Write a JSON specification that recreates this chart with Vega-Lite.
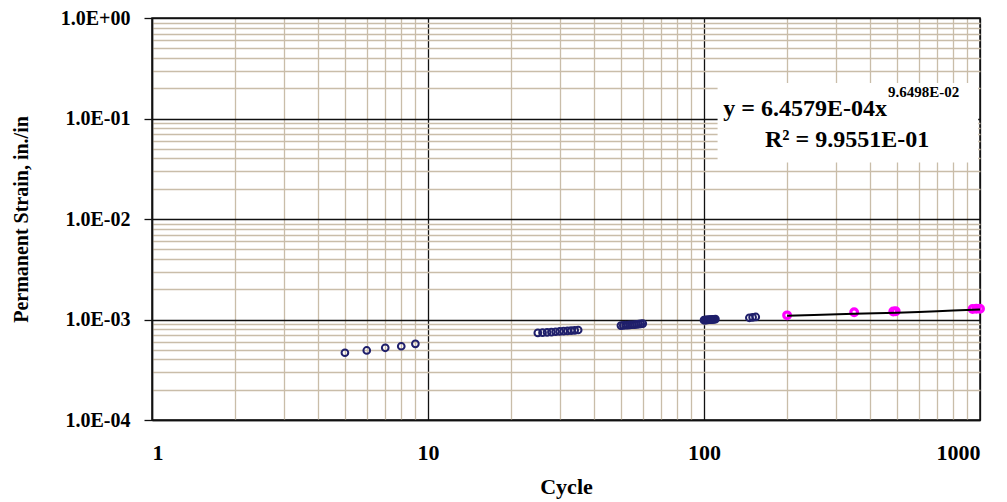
{
  "$schema": "https://vega.github.io/schema/vega-lite/v6.json",
  "width": 828,
  "height": 402,
  "autosize": {"type": "none"},
  "padding": {"left": 152, "top": 18, "right": 27, "bottom": 82},
  "background": "white",
  "config": {
    "view": {"stroke": "#111", "strokeWidth": 1.5},
    "font": "Liberation Serif",
    "axis": {
      "labelFont": "Liberation Serif",
      "titleFont": "Liberation Serif",
      "labelFontWeight": "bold",
      "titleFontWeight": "bold",
      "labelColor": "black",
      "titleColor": "black",
      "domainColor": "#111",
      "domainWidth": 1.5
    }
  },
  "datasets": {
    "pts": [
      {"cycle": 5, "strain": 0.000467, "series": "a"},
      {"cycle": 6, "strain": 0.000492, "series": "a"},
      {"cycle": 7, "strain": 0.000523, "series": "a"},
      {"cycle": 8, "strain": 0.000542, "series": "a"},
      {"cycle": 9, "strain": 0.000573, "series": "a"},
      {"cycle": 25, "strain": 0.000735, "series": "a"},
      {"cycle": 26, "strain": 0.00074, "series": "a"},
      {"cycle": 27, "strain": 0.000745, "series": "a"},
      {"cycle": 28, "strain": 0.00075, "series": "a"},
      {"cycle": 29, "strain": 0.000755, "series": "a"},
      {"cycle": 30, "strain": 0.00076, "series": "a"},
      {"cycle": 31, "strain": 0.000766, "series": "a"},
      {"cycle": 32, "strain": 0.00077, "series": "a"},
      {"cycle": 33, "strain": 0.000776, "series": "a"},
      {"cycle": 34, "strain": 0.00078, "series": "a"},
      {"cycle": 35, "strain": 0.000786, "series": "a"},
      {"cycle": 50, "strain": 0.00087, "series": "a"},
      {"cycle": 51, "strain": 0.000874, "series": "a"},
      {"cycle": 52, "strain": 0.000877, "series": "a"},
      {"cycle": 53, "strain": 0.00088, "series": "a"},
      {"cycle": 54, "strain": 0.000884, "series": "a"},
      {"cycle": 55, "strain": 0.000887, "series": "a"},
      {"cycle": 56, "strain": 0.00089, "series": "a"},
      {"cycle": 57, "strain": 0.000895, "series": "a"},
      {"cycle": 58, "strain": 0.0009, "series": "a"},
      {"cycle": 59, "strain": 0.000905, "series": "a"},
      {"cycle": 60, "strain": 0.00091, "series": "a"},
      {"cycle": 100, "strain": 0.000985, "series": "a"},
      {"cycle": 101, "strain": 0.000987, "series": "a"},
      {"cycle": 102, "strain": 0.00099, "series": "a"},
      {"cycle": 103, "strain": 0.000992, "series": "a"},
      {"cycle": 104, "strain": 0.000994, "series": "a"},
      {"cycle": 105, "strain": 0.000996, "series": "a"},
      {"cycle": 106, "strain": 0.000998, "series": "a"},
      {"cycle": 107, "strain": 0.001, "series": "a"},
      {"cycle": 108, "strain": 0.001003, "series": "a"},
      {"cycle": 109, "strain": 0.001006, "series": "a"},
      {"cycle": 110, "strain": 0.00101, "series": "a"},
      {"cycle": 146, "strain": 0.00104, "series": "a"},
      {"cycle": 150, "strain": 0.00105, "series": "a"},
      {"cycle": 154, "strain": 0.00106, "series": "a"},
      {"cycle": 200, "strain": 0.0011, "series": "b"},
      {"cycle": 350, "strain": 0.00118, "series": "b"},
      {"cycle": 485, "strain": 0.0012, "series": "b"},
      {"cycle": 495, "strain": 0.00121, "series": "b"},
      {"cycle": 940, "strain": 0.00127, "series": "b"},
      {"cycle": 970, "strain": 0.00128, "series": "b"},
      {"cycle": 1000, "strain": 0.00128, "series": "b"}
    ],
    "fit": [
      {"cycle": 200, "strain": 0.00109},
      {"cycle": 250, "strain": 0.00111},
      {"cycle": 350, "strain": 0.00114},
      {"cycle": 500, "strain": 0.00117},
      {"cycle": 600, "strain": 0.00119},
      {"cycle": 700, "strain": 0.00121},
      {"cycle": 800, "strain": 0.00123},
      {"cycle": 1000, "strain": 0.00126}
    ],
    "box": [
      {"x1": 112, "x2": 985, "y1": 0.0365, "y2": 0.225}
    ],
    "labels": [
      {"cycle": 460, "strain": 0.107, "txt": "y = 6.4579E-04x", "kind": "main"},
      {"cycle": 460, "strain": 0.162, "txt": "9.6498E-02", "kind": "sup"},
      {"cycle": 330, "strain": 0.0526, "txt": "R² = 9.9551E-01", "kind": "r2"}
    ]
  },
  "layer": [
    {
      "data": {"name": "pts"},
      "mark": {"type": "point", "shape": "circle", "filled": false, "size": 45, "strokeWidth": 2, "opacity": 1},
      "encoding": {
        "x": {
          "field": "cycle", "type": "quantitative",
          "scale": {"type": "log", "domain": [1, 1000], "nice": false},
          "axis": {
            "title": "Cycle",
            "titleFontSize": 22,
            "titlePadding": 13,
            "labelFontSize": 22,
            "labelPadding": 22,
            "ticks": false,
            "labelOverlap": false,
            "labelBound": false,
            "values": [1,2,3,4,5,6,7,8,9,10,20,30,40,50,60,70,80,90,100,200,300,400,500,600,700,800,900,1000],
            "labelExpr": "abs(log(datum.value)/LN10 - round(log(datum.value)/LN10)) < 0.001 ? format(datum.value, 'd') : ''",
            "grid": true,
            "gridColor": {"condition": {"test": "abs(log(datum.value)/LN10 - round(log(datum.value)/LN10)) < 0.001", "value": "#111"}, "value": "#c9bda9"},
            "gridWidth": 1.3,
            "gridOpacity": 1
          }
        },
        "y": {
          "field": "strain", "type": "quantitative",
          "scale": {"type": "log", "domain": [0.0001, 1], "nice": false},
          "axis": {
            "title": "Permanent Strain, in./in",
            "titleFontSize": 20,
            "titlePadding": 29,
            "labelFontSize": 20,
            "labelPadding": 14,
            "tickSize": 8,
            "tickWidth": 1.3,
            "tickColor": {"condition": {"test": "abs(log(datum.value)/LN10 - round(log(datum.value)/LN10)) < 0.001", "value": "#111"}, "value": "transparent"},
            "labelOverlap": false,
            "labelBound": false,
            "values": [0.0001,0.0002,0.0003,0.0004,0.0005,0.0006,0.0007,0.0008,0.0009,0.001,0.002,0.003,0.004,0.005,0.006,0.007,0.008,0.009,0.01,0.02,0.03,0.04,0.05,0.06,0.07,0.08,0.09,0.1,0.2,0.3,0.4,0.5,0.6,0.7,0.8,0.9,1],
            "labelExpr": "abs(log(datum.value)/LN10 - round(log(datum.value)/LN10)) < 0.001 ? '1.0E' + (round(log(datum.value)/LN10) >= 0 ? '+0' : '-0') + abs(round(log(datum.value)/LN10)) : ''",
            "grid": true,
            "gridColor": {"condition": {"test": "abs(log(datum.value)/LN10 - round(log(datum.value)/LN10)) < 0.001", "value": "#111"}, "value": "#c9bda9"},
            "gridWidth": 1.3,
            "gridOpacity": 1
          }
        },
        "color": {
          "field": "series", "type": "nominal",
          "scale": {"domain": ["a", "b"], "range": ["#1f1f6b", "#ff00ff"]},
          "legend": null
        },
        "strokeWidth": {
          "field": "series", "type": "nominal",
          "scale": {"domain": ["a", "b"], "range": [2, 3.2]},
          "legend": null
        }
      }
    },
    {
      "data": {"name": "fit"},
      "mark": {"type": "line", "color": "black", "strokeWidth": 2},
      "encoding": {
        "x": {"field": "cycle", "type": "quantitative"},
        "y": {"field": "strain", "type": "quantitative"}
      }
    },
    {
      "data": {"name": "box"},
      "mark": {"type": "rect", "fill": "white", "stroke": null},
      "encoding": {
        "x": {"field": "x1", "type": "quantitative"},
        "x2": {"field": "x2"},
        "y": {"field": "y1", "type": "quantitative"},
        "y2": {"field": "y2"}
      }
    },
    {
      "data": {"name": "labels"},
      "transform": [{"filter": "datum.kind == 'main'"}],
      "mark": {"type": "text", "font": "Liberation Serif", "fontWeight": "bold", "fontSize": 24, "align": "right", "baseline": "alphabetic", "color": "black"},
      "encoding": {
        "x": {"field": "cycle", "type": "quantitative"},
        "y": {"field": "strain", "type": "quantitative"},
        "text": {"field": "txt"}
      }
    },
    {
      "data": {"name": "labels"},
      "transform": [{"filter": "datum.kind == 'sup'"}],
      "mark": {"type": "text", "font": "Liberation Serif", "fontWeight": "bold", "fontSize": 15, "align": "left", "baseline": "alphabetic", "dx": 1, "color": "black"},
      "encoding": {
        "x": {"field": "cycle", "type": "quantitative"},
        "y": {"field": "strain", "type": "quantitative"},
        "text": {"field": "txt"}
      }
    },
    {
      "data": {"name": "labels"},
      "transform": [{"filter": "datum.kind == 'r2'"}],
      "mark": {"type": "text", "font": "Liberation Serif", "fontWeight": "bold", "fontSize": 24, "align": "center", "baseline": "alphabetic", "color": "black"},
      "encoding": {
        "x": {"field": "cycle", "type": "quantitative"},
        "y": {"field": "strain", "type": "quantitative"},
        "text": {"field": "txt"}
      }
    }
  ]
}
